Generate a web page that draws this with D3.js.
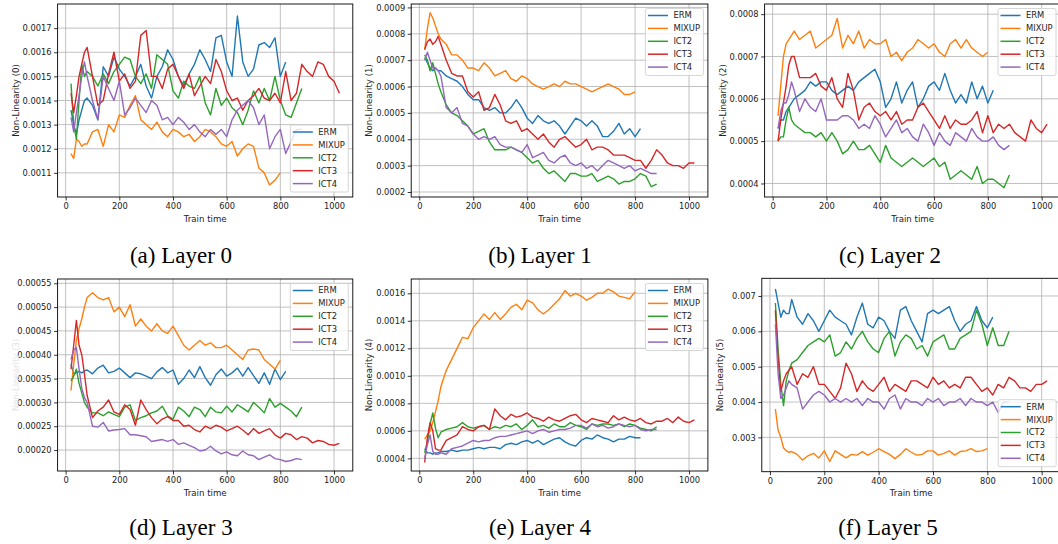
<!DOCTYPE html>
<html>
<head>
<meta charset="utf-8">
<script src="https://cdn.jsdelivr.net/npm/d3@7"></script>
<style>
  body { margin: 0; background: #fff; }
  svg { display: block; }
</style>
</head>
<body>
<svg id="fig" width="1058" height="544"></svg>
<script>
// sample times (train time) shared by every series; a series stops where its array stops
const TIME = [20,30,40,50,60,70,80,100,120,140,160,180,200,220,240,260,280,300,320,340,360,380,400,
  420,440,460,480,500,520,540,560,580,600,620,640,660,680,700,720,740,760,780,800,820,840,860,880,
  900,920,940,960,980,1000,1020];
const SERIES = ["ERM", "MIXUP", "ICT2", "ICT3", "ICT4"];
const COLORS = ["#1f77b4", "#ff7f0e", "#2ca02c", "#d62728", "#9467bd"];
const X_TICKS = [0, 200, 400, 600, 800, 1000];

// Layer 0
const l0_erm = [0.00136,0.00130,0.00126,0.00132,0.00136,0.00140,0.00141,0.00138,0.00132,0.00154,0.00150,0.00158,0.00153,0.00150,0.00146,0.00150,0.00155,0.00146,0.00141,0.00150,0.00154,0.00161,0.00157,0.00150,0.00146,0.00151,0.00155,0.00161,0.00157,0.00152,0.00166,0.00167,0.00156,0.00150,0.00175,0.00156,0.00150,0.00153,0.00163,0.00164,0.00162,0.00166,0.00150,0.00156];
const l0_mixup = [0.00118,0.00116,0.00124,0.00123,0.00121,0.00122,0.00122,0.00127,0.00128,0.00121,0.00130,0.00127,0.00134,0.00133,0.00138,0.00142,0.00132,0.00130,0.00128,0.00131,0.00127,0.00125,0.00128,0.00127,0.00125,0.00126,0.00123,0.00125,0.00128,0.00127,0.00125,0.00122,0.00121,0.00123,0.00117,0.00120,0.00122,0.00121,0.00112,0.00110,0.00105,0.00107,0.00110];
const l0_ict2 = [0.00147,0.00130,0.00124,0.00140,0.00155,0.00150,0.00152,0.00150,0.00146,0.00151,0.00147,0.00152,0.00155,0.00158,0.00157,0.00150,0.00147,0.00151,0.00145,0.00159,0.00157,0.00155,0.00144,0.00141,0.00148,0.00146,0.00145,0.00150,0.00139,0.00134,0.00145,0.00138,0.00141,0.00137,0.00135,0.00130,0.00136,0.00144,0.00139,0.00145,0.00140,0.00150,0.00140,0.00134,0.00133,0.00139,0.00145];
const l0_ict3 = [0.00143,0.00135,0.00142,0.00150,0.00155,0.00160,0.00162,0.00150,0.00138,0.00140,0.00151,0.00160,0.00148,0.00151,0.00145,0.00148,0.00167,0.00169,0.00150,0.00150,0.00145,0.00153,0.00155,0.00150,0.00145,0.00151,0.00142,0.00146,0.00150,0.00147,0.00157,0.00152,0.00144,0.00140,0.00141,0.00136,0.00140,0.00142,0.00145,0.00141,0.00140,0.00143,0.00139,0.00152,0.00140,0.00143,0.00155,0.00152,0.00150,0.00156,0.00155,0.00150,0.00148,0.00143];
const l0_ict4 = [0.00133,0.00127,0.00135,0.00142,0.00150,0.00156,0.00150,0.00140,0.00132,0.00150,0.00145,0.00140,0.00148,0.00134,0.00137,0.00141,0.00138,0.00135,0.00140,0.00138,0.00132,0.00133,0.00130,0.00133,0.00131,0.00128,0.00130,0.00127,0.00125,0.00128,0.00126,0.00128,0.00125,0.00132,0.00136,0.00138,0.00140,0.00137,0.00130,0.00134,0.00120,0.00125,0.00128,0.00118,0.00123,0.00128,0.00128];
const l0_yticks = [0.0011, 0.0012, 0.0013, 0.0014, 0.0015, 0.0016, 0.0017];

// Layer 1
const l1_erm = [0.00071,0.00069,0.00067,0.00066,0.00067,0.00066,0.00066,0.00064,0.00063,0.00062,0.00060,0.00057,0.00055,0.00055,0.00052,0.00051,0.00052,0.00050,0.00050,0.00052,0.00055,0.00052,0.00048,0.00046,0.00049,0.00047,0.00046,0.00047,0.00045,0.00042,0.00045,0.00048,0.00047,0.00045,0.00047,0.00045,0.00041,0.00041,0.00043,0.00046,0.00042,0.00044,0.00041,0.00044];
const l1_mixup = [0.00074,0.00082,0.00088,0.00086,0.00083,0.00080,0.00078,0.00076,0.00072,0.00072,0.00070,0.00067,0.00067,0.00066,0.00069,0.00067,0.00064,0.00065,0.00066,0.00063,0.00062,0.00064,0.00063,0.00061,0.00060,0.00059,0.00060,0.00061,0.00060,0.00062,0.00061,0.00061,0.00060,0.00059,0.00058,0.00059,0.00060,0.00061,0.00060,0.00059,0.00057,0.00057,0.00058];
const l1_ict2 = [0.00072,0.00070,0.00066,0.00069,0.00065,0.00061,0.00058,0.00053,0.00050,0.00049,0.00047,0.00045,0.00042,0.00043,0.00044,0.00039,0.00036,0.00036,0.00036,0.00037,0.00036,0.00035,0.00033,0.00031,0.00032,0.00029,0.00027,0.00028,0.00026,0.00024,0.00027,0.00027,0.00026,0.00026,0.00027,0.00024,0.00025,0.00026,0.00025,0.00023,0.00024,0.00024,0.00025,0.00027,0.00026,0.00022,0.00023];
const l1_ict3 = [0.00074,0.00077,0.00078,0.00076,0.00077,0.00079,0.00076,0.00070,0.00065,0.00064,0.00064,0.00058,0.00056,0.00058,0.00051,0.00052,0.00057,0.00053,0.00047,0.00046,0.00047,0.00043,0.00044,0.00042,0.00040,0.00042,0.00039,0.00037,0.00040,0.00041,0.00039,0.00037,0.00038,0.00040,0.00036,0.00037,0.00037,0.00036,0.00034,0.00034,0.00034,0.00033,0.00032,0.00032,0.00029,0.00032,0.00036,0.00034,0.00031,0.00030,0.00030,0.00029,0.00031,0.00031];
const l1_ict4 = [0.00070,0.00073,0.00070,0.00067,0.00067,0.00066,0.00064,0.00052,0.00050,0.00052,0.00046,0.00045,0.00042,0.00040,0.00041,0.00040,0.00041,0.00038,0.00037,0.00037,0.00036,0.00035,0.00038,0.00033,0.00034,0.00035,0.00032,0.00031,0.00033,0.00034,0.00031,0.00030,0.00031,0.00029,0.00030,0.00028,0.00030,0.00032,0.00031,0.00030,0.00029,0.00030,0.00028,0.00029,0.00028,0.00027,0.00027];
const l1_yticks = [0.0002, 0.0003, 0.0004, 0.0005, 0.0006, 0.0007, 0.0008, 0.0009];

// Layer 2
const l2_erm = [0.00053,0.00055,0.00055,0.00057,0.00058,0.00059,0.00060,0.00061,0.00062,0.00064,0.00063,0.00064,0.00064,0.00062,0.00061,0.00062,0.00063,0.00062,0.00064,0.00065,0.00066,0.00067,0.00064,0.00058,0.00060,0.00064,0.00059,0.00062,0.00064,0.00058,0.00060,0.00063,0.00064,0.00062,0.00066,0.00062,0.00059,0.00061,0.00059,0.00064,0.00060,0.00063,0.00059,0.00062];
const l2_mixup = [0.00056,0.00063,0.00070,0.00073,0.00074,0.00075,0.00076,0.00074,0.00075,0.00076,0.00072,0.00073,0.00074,0.00075,0.00079,0.00072,0.00075,0.00073,0.00076,0.00072,0.00074,0.00073,0.00073,0.00074,0.00070,0.00071,0.00069,0.00071,0.00072,0.00074,0.00073,0.00072,0.00073,0.00071,0.00070,0.00073,0.00074,0.00072,0.00074,0.00072,0.00071,0.00070,0.00071];
const l2_ict2 = [0.00050,0.00051,0.00051,0.00055,0.00058,0.00055,0.00054,0.00053,0.00052,0.00052,0.00051,0.00052,0.00050,0.00052,0.00050,0.00047,0.00048,0.00050,0.00048,0.00048,0.00049,0.00047,0.00045,0.00049,0.00046,0.00045,0.00044,0.00045,0.00046,0.00045,0.00044,0.00045,0.00046,0.00044,0.00045,0.00041,0.00042,0.00043,0.00042,0.00041,0.00044,0.00040,0.00041,0.00041,0.00040,0.00039,0.00042];
const l2_ict3 = [0.00050,0.00055,0.00059,0.00063,0.00068,0.00070,0.00070,0.00065,0.00065,0.00065,0.00066,0.00063,0.00062,0.00065,0.00060,0.00058,0.00066,0.00062,0.00055,0.00058,0.00059,0.00057,0.00056,0.00057,0.00055,0.00057,0.00054,0.00055,0.00055,0.00058,0.00059,0.00057,0.00055,0.00053,0.00056,0.00053,0.00055,0.00054,0.00054,0.00055,0.00057,0.00052,0.00056,0.00052,0.00054,0.00053,0.00054,0.00052,0.00051,0.00050,0.00055,0.00053,0.00052,0.00054];
const l2_ict4 = [0.00053,0.00057,0.00059,0.00059,0.00061,0.00064,0.00062,0.00057,0.00060,0.00058,0.00057,0.00060,0.00055,0.00055,0.00055,0.00056,0.00056,0.00055,0.00053,0.00054,0.00053,0.00056,0.00054,0.00051,0.00053,0.00055,0.00052,0.00053,0.00051,0.00050,0.00054,0.00052,0.00049,0.00052,0.00050,0.00049,0.00052,0.00051,0.00050,0.00053,0.00051,0.00050,0.00050,0.00051,0.00049,0.00048,0.00049];
const l2_yticks = [0.0004, 0.0005, 0.0006, 0.0007, 0.0008];

// Layer 3
const l3_erm = [0.000380,0.000360,0.000362,0.000365,0.000362,0.000366,0.000368,0.000360,0.000372,0.000378,0.000362,0.000365,0.000372,0.000362,0.000352,0.000362,0.000360,0.000355,0.000350,0.000364,0.000373,0.000362,0.000368,0.000338,0.000350,0.000368,0.000352,0.000375,0.000352,0.000336,0.000358,0.000370,0.000355,0.000362,0.000372,0.000355,0.000373,0.000356,0.000340,0.000362,0.000338,0.000370,0.000348,0.000365];
const l3_mixup = [0.000325,0.000380,0.000430,0.000455,0.000475,0.000500,0.000520,0.000530,0.000520,0.000515,0.000520,0.000490,0.000500,0.000480,0.000505,0.000460,0.000475,0.000460,0.000450,0.000465,0.000450,0.000445,0.000460,0.000440,0.000420,0.000410,0.000420,0.000430,0.000420,0.000425,0.000415,0.000415,0.000420,0.000410,0.000400,0.000390,0.000410,0.000412,0.000410,0.000390,0.000380,0.000370,0.000388];
const l3_ict2 = [0.000345,0.000355,0.000370,0.000340,0.000320,0.000300,0.000290,0.000278,0.000278,0.000272,0.000280,0.000275,0.000270,0.000290,0.000295,0.000262,0.000268,0.000272,0.000278,0.000282,0.000292,0.000272,0.000265,0.000290,0.000282,0.000270,0.000290,0.000285,0.000270,0.000290,0.000280,0.000278,0.000292,0.000280,0.000295,0.000288,0.000280,0.000300,0.000290,0.000278,0.000308,0.000290,0.000298,0.000290,0.000282,0.000270,0.000290];
const l3_ict3 = [0.000370,0.000420,0.000472,0.000420,0.000400,0.000360,0.000315,0.000268,0.000282,0.000290,0.000305,0.000280,0.000275,0.000295,0.000285,0.000252,0.000305,0.000285,0.000268,0.000255,0.000265,0.000270,0.000262,0.000262,0.000250,0.000252,0.000243,0.000238,0.000250,0.000245,0.000252,0.000248,0.000240,0.000245,0.000250,0.000242,0.000232,0.000245,0.000235,0.000240,0.000245,0.000232,0.000225,0.000235,0.000232,0.000222,0.000228,0.000225,0.000215,0.000220,0.000218,0.000212,0.000210,0.000214];
const l3_ict4 = [0.000390,0.000410,0.000415,0.000370,0.000330,0.000310,0.000300,0.000250,0.000248,0.000258,0.000240,0.000242,0.000243,0.000245,0.000232,0.000232,0.000230,0.000228,0.000218,0.000220,0.000222,0.000218,0.000222,0.000212,0.000215,0.000210,0.000205,0.000198,0.000200,0.000208,0.000198,0.000192,0.000196,0.000190,0.000188,0.000198,0.000190,0.000188,0.000180,0.000185,0.000190,0.000182,0.000180,0.000176,0.000178,0.000182,0.000180];
const l3_yticks = [0.00020, 0.00025, 0.00030, 0.00035, 0.00040, 0.00045, 0.00050, 0.00055];

// Layer 4
const l4_erm = [0.00047,0.00044,0.00044,0.00043,0.00044,0.00044,0.00045,0.00045,0.00046,0.00045,0.00046,0.00046,0.00047,0.00048,0.00047,0.00048,0.00048,0.00047,0.00050,0.00051,0.00050,0.00052,0.00053,0.00051,0.00053,0.00050,0.00052,0.00054,0.00055,0.00052,0.00050,0.00049,0.00053,0.00055,0.00054,0.00057,0.00055,0.00054,0.00052,0.00054,0.00054,0.00056,0.00055,0.00055];
const l4_mixup = [0.00054,0.00057,0.00060,0.00066,0.00074,0.00082,0.00092,0.00104,0.00112,0.00120,0.00128,0.00127,0.00135,0.00140,0.00145,0.00141,0.00146,0.00141,0.00145,0.00150,0.00152,0.00148,0.00155,0.00153,0.00148,0.00145,0.00148,0.00152,0.00156,0.00162,0.00158,0.00160,0.00158,0.00155,0.00157,0.00160,0.00160,0.00163,0.00161,0.00158,0.00157,0.00156,0.00161];
const l4_ict2 = [0.00044,0.00052,0.00065,0.00073,0.00062,0.00055,0.00059,0.00061,0.00062,0.00063,0.00066,0.00063,0.00062,0.00063,0.00064,0.00061,0.00063,0.00062,0.00064,0.00063,0.00065,0.00061,0.00064,0.00068,0.00063,0.00064,0.00062,0.00065,0.00063,0.00063,0.00066,0.00064,0.00063,0.00061,0.00065,0.00064,0.00065,0.00065,0.00064,0.00065,0.00063,0.00065,0.00064,0.00062,0.00061,0.00060,0.00063];
const l4_ict3 = [0.00037,0.00055,0.00066,0.00060,0.00047,0.00046,0.00046,0.00053,0.00055,0.00057,0.00063,0.00061,0.00060,0.00063,0.00064,0.00061,0.00076,0.00071,0.00068,0.00072,0.00070,0.00071,0.00073,0.00070,0.00069,0.00067,0.00070,0.00068,0.00067,0.00069,0.00071,0.00072,0.00068,0.00066,0.00069,0.00068,0.00067,0.00066,0.00071,0.00068,0.00070,0.00068,0.00067,0.00069,0.00066,0.00065,0.00067,0.00067,0.00069,0.00066,0.00070,0.00067,0.00066,0.00068];
const l4_ict4 = [0.00040,0.00050,0.00057,0.00045,0.00043,0.00043,0.00044,0.00043,0.00047,0.00048,0.00049,0.00051,0.00053,0.00052,0.00053,0.00053,0.00055,0.00056,0.00056,0.00057,0.00058,0.00059,0.00060,0.00058,0.00060,0.00061,0.00059,0.00060,0.00061,0.00061,0.00062,0.00064,0.00064,0.00062,0.00065,0.00063,0.00064,0.00062,0.00063,0.00065,0.00064,0.00063,0.00064,0.00061,0.00060,0.00061,0.00061];
const l4_yticks = [0.0004, 0.0006, 0.0008, 0.0010, 0.0012, 0.0014, 0.0016];

// Layer 5
const l5_erm = [0.0072,0.0068,0.0064,0.0066,0.0065,0.0065,0.0069,0.0064,0.0062,0.0065,0.0063,0.0060,0.0063,0.0066,0.0064,0.0063,0.0062,0.0059,0.0064,0.0068,0.0062,0.0061,0.0064,0.0063,0.0060,0.0058,0.0066,0.0067,0.0063,0.0060,0.0057,0.0065,0.0066,0.0065,0.0066,0.0067,0.0063,0.0060,0.0062,0.0063,0.0067,0.0063,0.0061,0.0064];
const l5_mixup = [0.0038,0.0032,0.0030,0.0027,0.00262,0.00258,0.0026,0.00252,0.00236,0.00248,0.00255,0.00242,0.00262,0.00232,0.00262,0.00252,0.00242,0.00252,0.00250,0.00260,0.00250,0.00258,0.00268,0.00260,0.00252,0.00240,0.00252,0.00268,0.00258,0.00250,0.00252,0.00262,0.00262,0.00250,0.00255,0.00262,0.00250,0.00260,0.00262,0.00268,0.00260,0.00262,0.00268];
const l5_ict2 = [0.0068,0.0055,0.0045,0.0039,0.0046,0.0049,0.0051,0.0052,0.0054,0.0056,0.0057,0.0058,0.0057,0.0059,0.0053,0.0054,0.0057,0.0055,0.0058,0.0060,0.0057,0.0055,0.0054,0.0058,0.0060,0.0053,0.0057,0.0059,0.0058,0.0055,0.0056,0.0053,0.0057,0.0058,0.0059,0.0055,0.0055,0.0058,0.0059,0.0060,0.0066,0.0062,0.0056,0.0061,0.0056,0.0056,0.0060];
const l5_ict3 = [0.0066,0.0052,0.0043,0.0046,0.0048,0.0049,0.0050,0.0045,0.0048,0.0047,0.0050,0.0045,0.0045,0.0043,0.0041,0.0044,0.0051,0.0048,0.0043,0.0046,0.0044,0.0043,0.0045,0.0047,0.0043,0.0045,0.0044,0.0043,0.0046,0.0046,0.0045,0.0044,0.0047,0.0045,0.0046,0.0044,0.0045,0.0044,0.0047,0.0047,0.0045,0.0043,0.0044,0.0042,0.0045,0.0044,0.0047,0.0046,0.0044,0.0044,0.0043,0.0045,0.0045,0.0046];
const l5_ict4 = [0.0062,0.0048,0.0041,0.0042,0.0044,0.0046,0.0045,0.0044,0.0038,0.0040,0.0042,0.0043,0.0042,0.0040,0.0041,0.0040,0.0041,0.0040,0.0041,0.0039,0.0041,0.0040,0.0040,0.0038,0.0041,0.0042,0.0038,0.0041,0.0040,0.0040,0.0039,0.0041,0.0040,0.0041,0.0039,0.0040,0.0040,0.0041,0.0039,0.0041,0.0040,0.0040,0.0039,0.0040,0.0037,0.0040,0.0040];
const l5_yticks = [0.003, 0.004, 0.005, 0.006, 0.007];

// layout of the six axes (pixels) - x domain is shared
const X_DOMAIN = [-30, 1070];
const panels = [
  {caption: "(a) Layer 0", ylabel: "Non-Linearity (0)", series: [l0_erm, l0_mixup, l0_ict2, l0_ict3, l0_ict4],
   yticks: l0_yticks, fmt: ".4f", ydom: [0.00100, 0.00180], box: [57.6, 4, 352.8, 197], legend: "lower", capX: 181},
  {caption: "(b) Layer 1", ylabel: "Non-Linearity (1)", series: [l1_erm, l1_mixup, l1_ict2, l1_ict3, l1_ict4],
   yticks: l1_yticks, fmt: ".4f", ydom: [0.000181, 0.000913], box: [411.2, 4, 707.9, 197], legend: "upper", capX: 540},
  {caption: "(c) Layer 2", ylabel: "Non-Linearity (2)", series: [l2_erm, l2_mixup, l2_ict2, l2_ict3, l2_ict4],
   yticks: l2_yticks, fmt: ".4f", ydom: [0.000368, 0.000824], box: [764.6, 4, 1060.5, 197], legend: "upper", capX: 890},
  {caption: "(d) Layer 3", ylabel: "Non-Linearity (3)", series: [l3_erm, l3_mixup, l3_ict2, l3_ict3, l3_ict4],
   yticks: l3_yticks, fmt: ".5f", ydom: [0.000156, 0.000559], box: [57.6, 279, 352.8, 471], legend: "upper", capX: 181, faintLabel: true},
  {caption: "(e) Layer 4", ylabel: "Non-Linearity (4)", series: [l4_erm, l4_mixup, l4_ict2, l4_ict3, l4_ict4],
   yticks: l4_yticks, fmt: ".4f", ydom: [0.000308, 0.001704], box: [411.2, 279, 707.9, 471], legend: "upper", capX: 540},
  {caption: "(f) Layer 5", ylabel: "Non-Linearity (5)", series: [l5_erm, l5_mixup, l5_ict2, l5_ict3, l5_ict4],
   yticks: l5_yticks, fmt: ".3f", ydom: [0.00203, 0.0075], box: [761.8, 278.3, 1060.7, 471.7], legend: "lower", capX: 888}
];

const svg = d3.select("#fig");
const FONT = "DejaVu Sans, sans-serif";

panels.forEach((p, k) => {
  const [l, t, r, b] = p.box;
  const x = d3.scaleLinear().domain(X_DOMAIN).range([l, r]);
  const y = d3.scaleLinear().domain(p.ydom).range([b, t]);
  const g = svg.append("g");

  // grid
  g.append("g").selectAll("line").data(X_TICKS).join("line")
    .attr("x1", d => x(d)).attr("x2", d => x(d)).attr("y1", t).attr("y2", b)
    .attr("stroke", "#b0b0b0").attr("stroke-width", 0.8);
  g.append("g").selectAll("line").data(p.yticks).join("line")
    .attr("x1", l).attr("x2", r).attr("y1", d => y(d)).attr("y2", d => y(d))
    .attr("stroke", "#b0b0b0").attr("stroke-width", 0.8);

  // lines
  svg.append("clipPath").attr("id", "clip" + k)
    .append("rect").attr("x", l).attr("y", t).attr("width", r - l).attr("height", b - t);
  const line = d3.line().x((v, i) => x(TIME[i])).y(v => y(v));
  g.append("g").attr("clip-path", `url(#clip${k})`)
    .selectAll("path").data(p.series).join("path")
    .attr("d", line)
    .attr("fill", "none")
    .attr("stroke", (d, i) => COLORS[i])
    .attr("stroke-width", 1.4)
    .attr("stroke-linejoin", "round");

  // axes
  const xAxis = g.append("g").attr("transform", `translate(0,${b})`)
    .call(d3.axisBottom(x).tickValues(X_TICKS).tickSize(3.5).tickPadding(2.5).tickFormat(d3.format("d")));
  const yAxis = g.append("g").attr("transform", `translate(${l},0)`)
    .call(d3.axisLeft(y).tickValues(p.yticks).tickSize(3.5).tickPadding(2.5).tickFormat(d3.format(p.fmt)));
  [xAxis, yAxis].forEach(a => {
    a.select(".domain").remove();
    a.selectAll("line").attr("stroke", "#000").attr("stroke-width", 0.8);
    a.selectAll("text").attr("font-family", FONT).attr("font-size", 8.3).attr("fill", "#222");
  });

  // frame
  g.append("rect").attr("x", l).attr("y", t).attr("width", r - l).attr("height", b - t)
    .attr("fill", "none").attr("stroke", "#000").attr("stroke-width", 0.9);

  // axis labels
  g.append("text").attr("x", (l + r) / 2).attr("y", b + 24.5)
    .attr("text-anchor", "middle").attr("font-family", FONT).attr("font-size", 8.6).attr("fill", "#222")
    .text("Train time");
  g.append("text")
    .attr("transform", `translate(${l - 42},${(t + b) / 2}) rotate(-90)`)
    .attr("text-anchor", "middle").attr("dy", "0.35em")
    .attr("font-family", FONT).attr("font-size", 8.6)
    .attr("fill", p.faintLabel ? "#e4e4e4" : "#222")
    .text(p.ylabel);

  // legend
  const lw = 58, lh = 67;
  const lx = r - 4.5 - lw;
  const ly = p.legend === "upper" ? t + 4.5 : b - 5 - lh;
  const lg = g.append("g").attr("transform", `translate(${lx},${ly})`);
  lg.append("rect").attr("width", lw).attr("height", lh).attr("rx", 2)
    .attr("fill", "#fff").attr("fill-opacity", 0.8)
    .attr("stroke", "#ccc").attr("stroke-width", 0.8);
  const item = lg.selectAll("g").data(SERIES).join("g")
    .attr("transform", (d, i) => `translate(0,${7 + i * 12.9})`);
  item.append("line").attr("x1", 2.5).attr("x2", 22.5)
    .attr("stroke", (d, i) => COLORS[i]).attr("stroke-width", 1.5);
  item.append("text").attr("x", 28).attr("dy", "0.35em")
    .attr("font-family", FONT).attr("font-size", 8.4).attr("fill", "#222")
    .text(d => d);

  // caption
  svg.append("text").attr("x", p.capX).attr("y", t < 100 ? 263 : 535)
    .attr("text-anchor", "middle")
    .attr("font-family", "Liberation Serif, Times New Roman, serif").attr("font-size", 23)
    .attr("fill", "#000")
    .text(p.caption);
});
</script>
</body>
</html>
